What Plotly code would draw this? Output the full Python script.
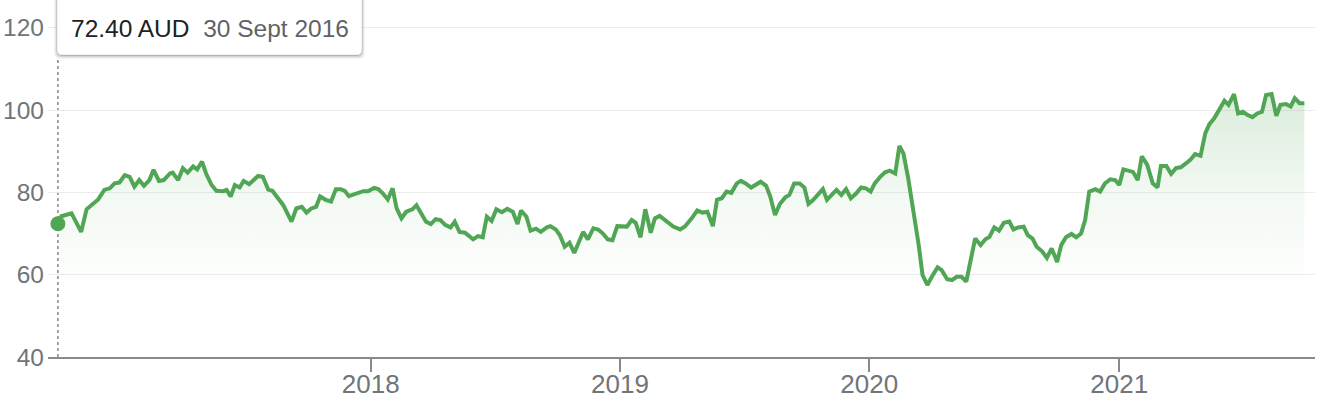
import pandas as pd
import plotly.graph_objects as go

# ---- data (weekly closes, AUD) ----
start_date = "2016-09-30"
days_since_start = [0,5,20,34,42,51,59,68,76,83,90,98,105,112,119,126,134,140,148,155,164,168,176,183,190,198,204,211,217,225,232,242,247,253,259,266,272,280,288,293,300,308,314,322,330,342,349,357,364,371,378,384,392,400,407,414,420,426,436,447,454,463,469,475,483,490,496,503,510,519,525,532,539,546,553,560,567,575,581,588,596,608,615,622,628,635,642,650,658,666,673,678,686,692,700,707,716,721,729,735,742,749,756,763,769,776,784,791,798,805,812,819,828,833,840,846,853,860,868,874,881,891,901,911,918,928,936,944,951,959,965,972,979,986,994,1000,1007,1015,1022,1029,1037,1043,1050,1057,1065,1071,1078,1086,1093,1099,1106,1114,1120,1126,1134,1140,1147,1154,1161,1169,1176,1183,1190,1196,1204,1211,1218,1226,1232,1238,1245,1253,1260,1266,1273,1281,1288,1294,1302,1309,1316,1323,1330,1337,1343,1351,1358,1364,1371,1378,1385,1393,1399,1406,1414,1420,1427,1433,1441,1448,1455,1463,1469,1476,1484,1491,1498,1504,1510,1519,1526,1533,1541,1548,1554,1560,1567,1574,1581,1587,1595,1603,1610,1615,1623,1630,1637,1644,1652,1658,1665,1673,1680,1686,1693,1701,1708,1714,1722,1728,1735,1742,1749,1756,1763,1769,1777,1784,1790,1798,1805,1811,1818,1825]
prices = [72.4,74.2,74.9,70.4,75.9,77.3,78.3,80.6,81.0,82.2,82.4,84.2,83.8,81.4,83.0,81.6,83.0,85.5,82.8,83.0,84.6,84.8,83.0,85.9,84.8,86.3,85.6,87.5,84.6,81.8,80.4,80.3,80.6,79.0,81.8,81.2,82.8,82.0,83.2,84.0,83.8,80.7,80.4,78.8,76.9,72.9,76.1,76.5,75.1,76.1,76.5,79.0,78.2,77.8,80.8,80.8,80.4,79.1,79.6,80.3,80.3,81.1,80.8,79.9,78.3,81.0,76.1,73.7,75.3,75.9,76.9,75.1,72.9,72.3,73.5,73.3,72.1,71.5,72.9,70.4,70.2,68.6,69.4,69.1,74.1,73.1,75.9,75.2,76.0,75.3,72.3,75.6,74.1,70.7,71.2,70.4,71.5,71.8,71.0,69.6,66.8,67.8,65.3,68.0,70.4,68.6,71.3,71.0,70.0,68.6,68.4,71.8,71.8,71.7,73.3,72.6,69.1,75.9,70.2,73.7,74.3,72.9,71.7,71.0,71.7,73.7,75.6,75.1,75.3,71.8,78.2,78.6,80.2,79.9,82.2,82.8,82.2,81.2,81.8,82.6,81.6,79.0,74.5,77.2,78.8,79.4,82.2,82.2,81.2,77.2,78.2,79.6,80.8,78.2,79.4,80.6,79.4,80.8,78.6,79.8,81.2,81.0,80.2,82.2,83.8,84.9,85.3,84.6,91.3,89.5,83.4,75.7,67.6,59.9,57.5,59.9,61.8,61.1,58.9,58.7,59.5,59.5,58.3,64.0,68.8,67.2,68.6,69.2,71.5,70.7,72.6,72.9,71.0,71.5,71.7,69.6,68.8,66.8,65.7,64.1,66.4,63.1,67.2,69.1,69.9,69.1,70.0,73.3,80.2,80.8,80.2,82.2,83.2,83.0,81.8,85.6,85.4,85.0,83.0,88.8,86.7,82.2,81.2,86.4,86.4,84.5,85.9,86.1,87.1,87.9,89.3,88.9,94.4,96.6,98.0,100.5,102.3,101.3,103.9,99.2,99.6,98.8,98.3,99.2,99.6,103.7,103.9,98.6,101.3,101.5,100.9,102.9,101.7,101.7]
y_ticks = [40, 60, 80, 100, 120]
x_ticks = ["2018-01-01", "2019-01-01", "2020-01-01", "2021-01-01"]
x_range = ["2016-09-15 12:00", "2021-10-14 14:00"]
y_range = [40, 126.77]
tooltip_price = "72.40 AUD"
tooltip_date = "30 Sept 2016"

assert len(days_since_start) == len(prices)
dates = pd.Timestamp(start_date) + pd.to_timedelta(days_since_start, unit="D")

GREEN = "rgb(80,166,84)"
FONT = "Liberation Sans, Arial, sans-serif"
GRAY = "#70757a"

fig = go.Figure()
fig.add_trace(go.Scatter(
    x=dates, y=prices, mode="lines",
    line=dict(color=GREEN, width=4),
    fill="tozeroy",
    fillgradient=dict(type="vertical", start=55, stop=104,
                      colorscale=[[0, "rgba(80,166,84,0)"],
                                  [0.5, "rgba(80,166,84,0.07)"],
                                  [1, "rgba(80,166,84,0.21)"]]),
    hoverinfo="skip", showlegend=False,
))
fig.add_trace(go.Scatter(
    x=[dates[0]], y=[prices[0]], mode="markers",
    marker=dict(color=GREEN, size=15),
    hoverinfo="skip", showlegend=False,
))

# plot geometry in px for decorations
L, R, T, B = 48, 1315, 0, 356.7
PW, PH = R - L, B - T
def px(x): return (x - L) / PW
def py(y): return (B - y) / PH

shapes = []
# dotted hover line
shapes.append(dict(type="line", xref="x", yref="paper", x0=dates[0], x1=dates[0],
                   y0=0, y1=py(58), layer="below",
                   line=dict(color="#80868b", width=1.5, dash="3px,3px")))

# tooltip box with shadow (rounded)
def rrect(x0, y0, x1, y1, r):
    rx, ry = r / PW, r / PH
    X0, X1 = px(x0), px(x1)
    Yt, Yb = py(y0), py(y1)
    return (f"M{X0+rx},{Yt} L{X1-rx},{Yt} Q{X1},{Yt} {X1},{Yt-ry} L{X1},{Yb+ry} "
            f"Q{X1},{Yb} {X1-rx},{Yb} L{X0+rx},{Yb} Q{X0},{Yb} {X0},{Yb+ry} "
            f"L{X0},{Yt-ry} Q{X0},{Yt} {X0+rx},{Yt} Z")
for dx, dy, a in [(4, 4, 0.04), (3, 3, 0.06), (2, 2, 0.08), (1, 1, 0.10)]:
    shapes.append(dict(type="path", xref="paper", yref="paper", layer="above",
                       path=rrect(57 - dx + 1, -10, 362 + dx - 1, 55 + dy, 6),
                       fillcolor=f"rgba(0,0,0,{a})", line=dict(width=0)))
shapes.append(dict(type="path", xref="paper", yref="paper", layer="above",
                   path=rrect(57, -10, 362, 55, 5),
                   fillcolor="white", line=dict(color="rgba(0,0,0,0.10)", width=1)))

fig.update_layout(
    width=1322, height=404,
    margin=dict(l=L, r=1322 - R, t=T, b=404 - B, autoexpand=False),
    paper_bgcolor="white", plot_bgcolor="white",
    font=dict(family=FONT, color=GRAY),
    hovermode=False,
    shapes=shapes,
    xaxis=dict(
        type="date", range=x_range, showgrid=False, zeroline=False, automargin=False,
        showline=True, linecolor="#8a8a8a", linewidth=2,
        ticks="outside", ticklen=13, tickwidth=1.5, tickcolor="#8a8a8a",
        tickvals=x_ticks, tickformat="%Y", ticklabelstandoff=-10,
        tickfont=dict(size=26, color=GRAY, family=FONT),
    ),
    yaxis=dict(
        range=y_range, tickvals=y_ticks, showgrid=True, gridcolor="#ececec", gridwidth=1,
        zeroline=False, showline=False, ticks="", automargin=False,
        ticklabelstandoff=3,
        tickfont=dict(size=24.5, color=GRAY, family=FONT),
    ),
    annotations=[dict(
        xref="paper", yref="paper", x=px(69), y=py(28), xanchor="left", yanchor="middle",
        showarrow=False, align="left",
        text=(f"<span style='color:#202124'>{tooltip_price}</span>\u00a0\u00a0"
              f"<span style='color:#5f6368'>{tooltip_date}</span>"),
        font=dict(size=24.5, family=FONT),
    )],
)

fig.write_html("out.html", config={"displayModeBar": False},
               post_script="document.body.style.margin='0';")
